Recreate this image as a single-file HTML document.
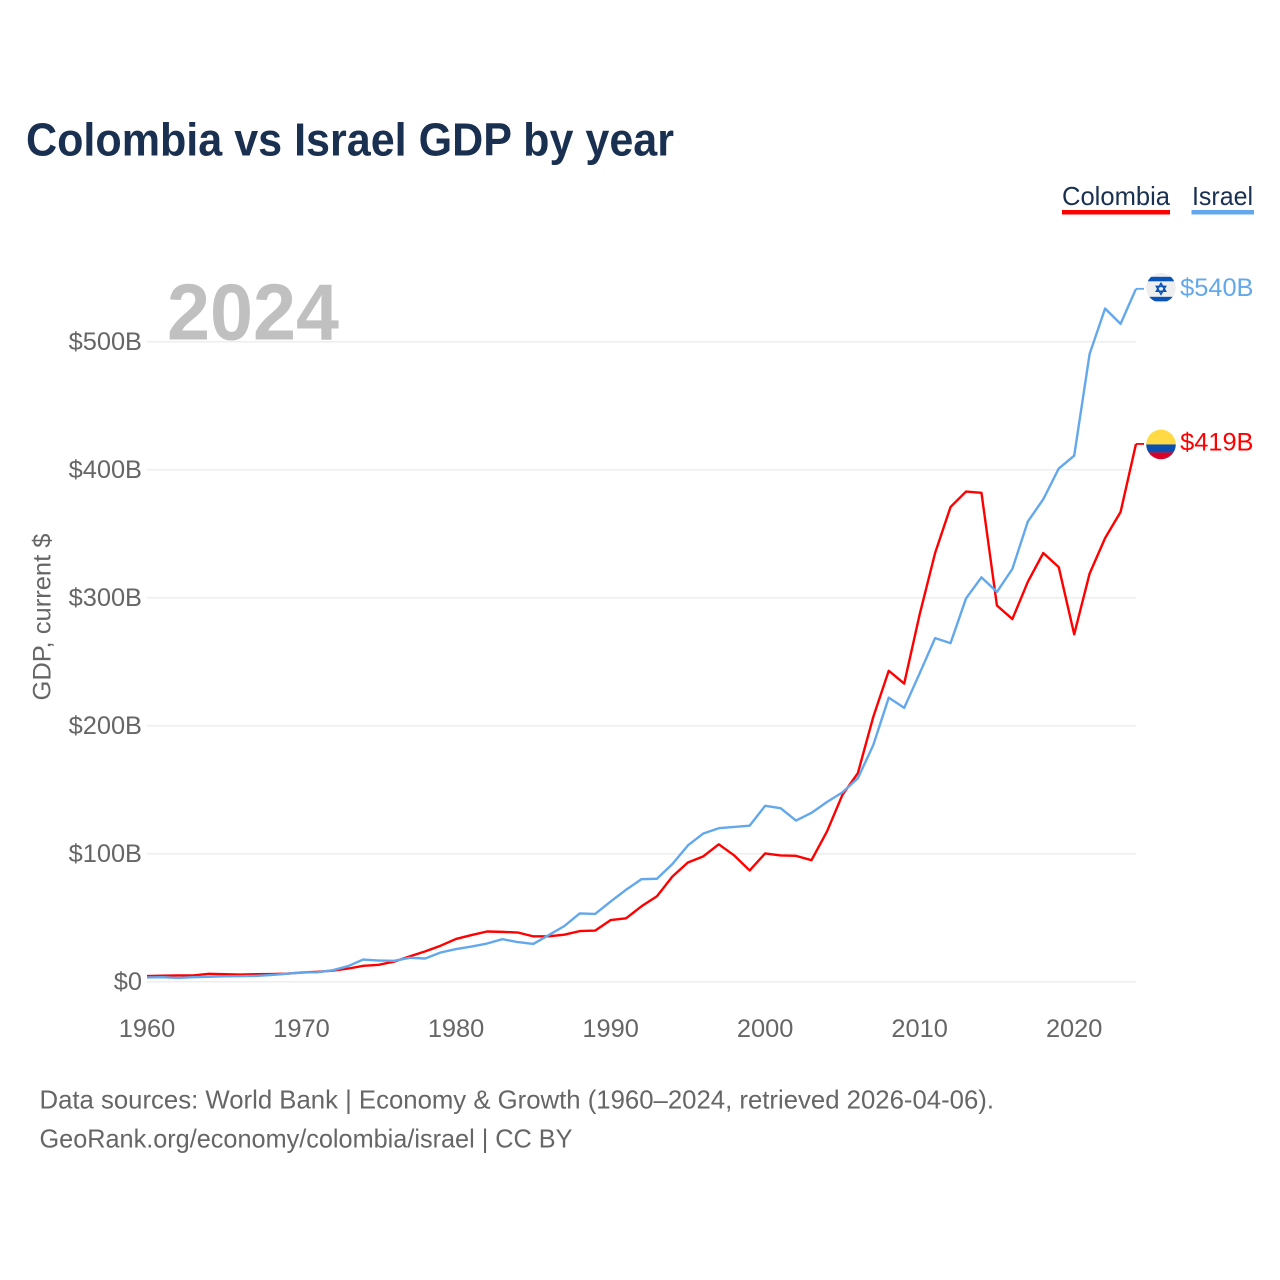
<!DOCTYPE html>
<html lang="en">
<head>
<meta charset="utf-8">
<title>Colombia vs Israel GDP by year</title>
<style>
html,body{margin:0;padding:0;background:#fff;width:1280px;height:1280px;overflow:hidden}
svg{display:block;font-family:"Liberation Sans",sans-serif}
</style>
</head>
<body>
<svg id="chart" width="1280" height="1280" viewBox="0 0 1280 1280" xmlns="http://www.w3.org/2000/svg">
  <defs>
    <clipPath id="flag-clip"><circle r="14.8"/></clipPath>
  </defs>
  <rect width="1280" height="1280" fill="#ffffff"/>
  <text x="26" y="155.5" font-size="46" font-weight="700" fill="#1a3050" textLength="648" lengthAdjust="spacingAndGlyphs">Colombia vs Israel GDP by year</text>

  <g>
    <text x="1062" y="205" font-size="26" fill="#1a3050" textLength="108" lengthAdjust="spacingAndGlyphs">Colombia</text>
    <rect x="1062" y="210" width="108" height="4.5" fill="#ff0000"/>
  </g>
  <g>
    <text x="1192" y="205" font-size="26" fill="#1a3050" textLength="61" lengthAdjust="spacingAndGlyphs">Israel</text>
    <rect x="1191.5" y="210" width="62.5" height="4.5" fill="#63a8ec"/>
  </g>

  <text x="167" y="339.5" font-size="80" font-weight="700" fill="#c0c0c0" textLength="172" lengthAdjust="spacingAndGlyphs">2024</text>
  <text transform="translate(50.5,700.5) rotate(-90)" font-size="25" fill="#666666" textLength="167" lengthAdjust="spacingAndGlyphs">GDP, current $</text>

  <g id="grid"></g>
  <g id="yticks"></g>
  <g id="xticks"></g>
  <g id="series"></g>
  <g id="ends"></g>

  <text x="39.5" y="1108.5" font-size="26" fill="#666666" textLength="954.5" lengthAdjust="spacingAndGlyphs">Data sources: World Bank | Economy &amp; Growth (1960–2024, retrieved 2026-04-06).</text>
  <text x="39.5" y="1147.5" font-size="26" fill="#666666" textLength="533" lengthAdjust="spacingAndGlyphs">GeoRank.org/economy/colombia/israel | CC BY</text>
</svg>
<script>
const years = [1960,1961,1962,1963,1964,1965,1966,1967,1968,1969,1970,1971,1972,1973,1974,1975,1976,1977,1978,1979,1980,1981,1982,1983,1984,1985,1986,1987,1988,1989,1990,1991,1992,1993,1994,1995,1996,1997,1998,1999,2000,2001,2002,2003,2004,2005,2006,2007,2008,2009,2010,2011,2012,2013,2014,2015,2016,2017,2018,2019,2020,2021,2022,2023,2024];
const colombiaValues = [4.5,4.8,5.0,5.0,6.2,5.9,5.6,5.9,6.0,6.3,7.2,7.8,8.7,10.3,12.5,13.3,15.8,19.9,23.8,28.2,33.5,36.5,39.3,39,38.5,35.5,35.5,36.8,39.6,40,48.2,49.6,59,66.8,82.3,93.2,98,107.4,98.7,87,100.3,98.7,98.4,95,117.4,146,163,207,243,233,287,335,371,383,382,294,283.4,312.5,335,324,271.5,319,346.6,367,420.2];
const israelValues = [3.4,3.6,3.0,3.6,3.9,4.3,4.4,4.6,5.3,6.2,7.3,7.4,9.0,12.2,17.4,16.6,16.4,18.7,18.2,22.9,25.6,27.5,29.9,33.3,31,29.6,36.5,43.5,53.4,53,62.7,71.9,80.2,80.5,92,106.5,115.9,120,121,122,137.5,135.6,126,132,140.5,148,159,185,222,214,241,268.5,264.6,299.5,316,304.6,322.6,359.6,377,401,411,490.6,526,514,541.4];
const colombiaEndLabel = "$419B";
const israelEndLabel = "$540B";
const yTickValues = [0,100,200,300,400,500];
const yTickLabels = ["$0","$100B","$200B","$300B","$400B","$500B"];
const xTickValues = [1960,1970,1980,1990,2000,2010,2020];
const xTickLabels = ["1960","1970","1980","1990","2000","2010","2020"];

const SVG_NS = "http://www.w3.org/2000/svg";
const plotLeft = 147, plotRight = 1136, zeroY = 981.8, pxPerBillion = 1.28;
const xScale = function (year) { return plotLeft + (year - years[0]) * (plotRight - plotLeft) / (years[years.length - 1] - years[0]); };
const yScale = function (value) { return zeroY - value * pxPerBillion; };
const make = function (tag, attrs, parent) {
  const el = document.createElementNS(SVG_NS, tag);
  for (const k in attrs) el.setAttribute(k, attrs[k]);
  parent.appendChild(el);
  return el;
};

const gridGroup = document.getElementById("grid");
const yGroup = document.getElementById("yticks");
yTickValues.forEach(function (v, i) {
  const line = make("line", {x1: plotLeft, x2: plotRight, y1: yScale(v), y2: yScale(v), stroke: "#e8e8e8", "stroke-width": 1.1}, gridGroup);
  
  
  const label = make("text", {x: 142, y: yScale(v) + 8, "font-size": 25.4, fill: "#666666", "text-anchor": "end"}, yGroup);
  
  
  label.textContent = yTickLabels[i];
});

const xGroup = document.getElementById("xticks");
xTickValues.forEach(function (v, i) {
  const label = make("text", {x: xScale(v), y: 1037, "font-size": 25.4, fill: "#666666", "text-anchor": "middle"}, xGroup);
  
  
  label.textContent = xTickLabels[i];
});

const seriesGroup = document.getElementById("series");
const endsGroup = document.getElementById("ends");
const linePoints = function (values) {
  return values.map(function (v, i) { return xScale(years[i]).toFixed(2) + "," + yScale(v).toFixed(2); }).join(" ");
};

const colombiaLine = make("polyline", {points: linePoints(colombiaValues), fill: "none", stroke: "#ff0000", "stroke-width": 2.4, "stroke-linejoin": "round"}, seriesGroup);


const israelLine = make("polyline", {points: linePoints(israelValues), fill: "none", stroke: "#63a8ec", "stroke-width": 2.4, "stroke-linejoin": "round"}, seriesGroup);



/* Colombia end marker */
const colY = yScale(colombiaValues[colombiaValues.length - 1]);
const colConnector = make("line", {x1: plotRight, x2: 1144, y1: colY, y2: colY, stroke: "#ff0000", "stroke-width": 1.8}, endsGroup);


const colFlag = make("g", {transform: "translate(1161," + (colY + 0.5) + ")"}, endsGroup);


const colClip = make("g", {"clip-path": "url(#flag-clip)"}, colFlag);
make("rect", {x: -15, y: -15, width: 30, height: 15, fill: "#ffda44"}, colClip);
make("rect", {x: -15, y: 0, width: 30, height: 8, fill: "#0a4fb0"}, colClip);
make("rect", {x: -15, y: 8, width: 30, height: 8, fill: "#d80027"}, colClip);
const colValue = make("text", {x: 1253.5, y: colY + 6.5, "font-size": 25.4, fill: "#ff0000", "text-anchor": "end"}, endsGroup);


colValue.textContent = colombiaEndLabel;

/* Israel end marker */
const isrY = yScale(israelValues[israelValues.length - 1]);
const isrConnector = make("line", {x1: plotRight, x2: 1144, y1: isrY, y2: isrY, stroke: "#63a8ec", "stroke-width": 1.8}, endsGroup);


const isrFlag = make("g", {transform: "translate(1161," + (isrY - 1) + ")"}, endsGroup);


const isrClip = make("g", {"clip-path": "url(#flag-clip)"}, isrFlag);
make("rect", {x: -15, y: -15, width: 30, height: 30, fill: "#eeeeee"}, isrClip);
make("rect", {x: -15, y: -11, width: 30, height: 4.5, fill: "#0a52b5"}, isrClip);
make("rect", {x: -15, y: 9, width: 30, height: 4.5, fill: "#0a52b5"}, isrClip);
make("polygon", {points: "0,-4.5 4.6,3.4 -4.6,3.4", fill: "none", stroke: "#0a52b5", "stroke-width": 1.5}, isrFlag);
make("polygon", {points: "0,6.5 4.6,-1.4 -4.6,-1.4", fill: "none", stroke: "#0a52b5", "stroke-width": 1.5}, isrFlag);
const isrValue = make("text", {x: 1253.5, y: isrY + 7, "font-size": 25.4, fill: "#63a8ec", "text-anchor": "end"}, endsGroup);


isrValue.textContent = israelEndLabel;
</script>
</body>
</html>
